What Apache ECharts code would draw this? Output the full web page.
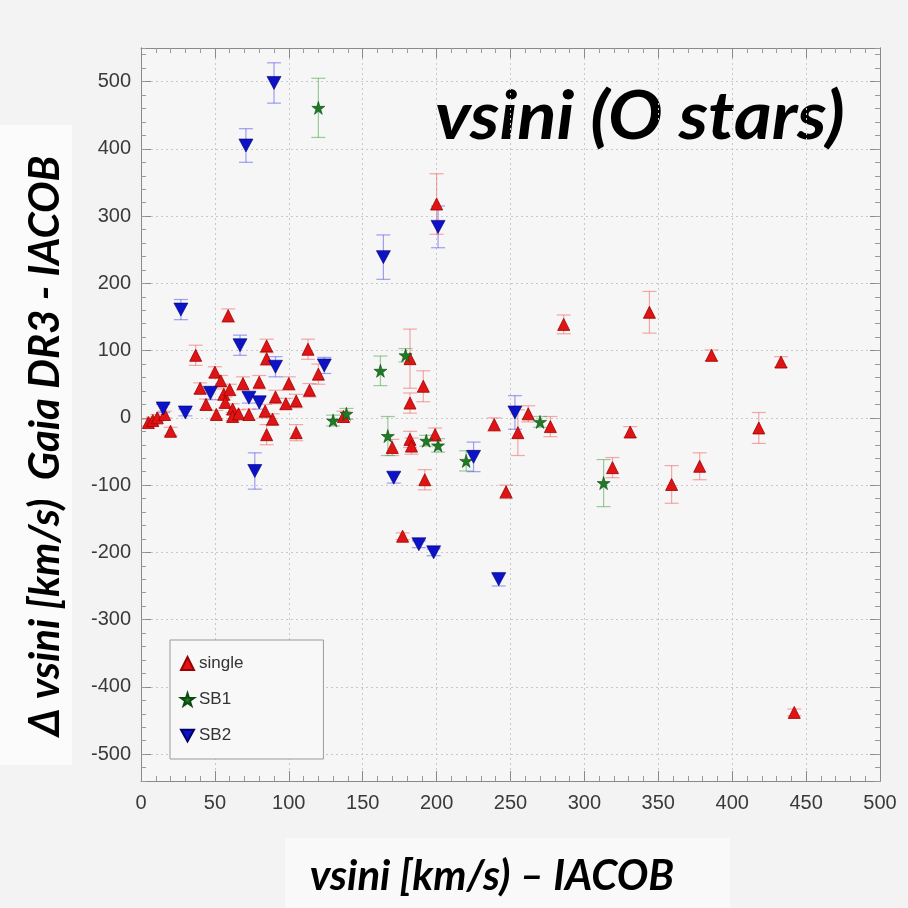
<!DOCTYPE html>
<html>
<head>
<meta charset="utf-8">
<script src="https://cdn.jsdelivr.net/npm/echarts@6/dist/echarts.min.js"></script>
<style>
  html, body { margin: 0; padding: 0; background: #f3f3f3; }
  #chart { width: 908px; height: 908px; }
</style>
</head>
<body>
<div id="chart"></div>
<script>
// [vsini IACOB, delta vsini, error]
const single = [
  [5, -7, 5], [8, -4, 5], [11, 0, 5], [16, 5, 5], [20, -20, 6],
  [37, 93, 15], [40, 44, 8], [44, 20, 8], [50, 68, 8], [51, 5, 6],
  [54, 55, 8], [56, 35, 8], [57, 23, 8], [59, 152, 10], [60, 42, 8],
  [62, 13, 8], [62, 2, 6], [66, 6, 6], [69, 51, 10], [73, 5, 8],
  [80, 53, 10], [84, 10, 10], [85, 107, 10], [85, 88, 10], [85, -25, 15],
  [89, -2, 8], [91, 31, 10], [98, 21, 8], [100, 51, 10], [105, 25, 10],
  [105, -22, 12], [113, 102, 15], [114, 41, 10], [120, 65, 15], [137, 2, 8],
  [170, -44, 12], [177, -176, 5], [182, 88, 44], [182, 22, 15], [182, -32, 12],
  [183, -42, 12], [191, 47, 23], [192, -92, 15], [199, -25, 10], [200, 318, 45],
  [239, -10, 10], [247, -110, 10], [255, -22, 34], [262, 6, 12], [277, -13, 15],
  [286, 139, 14], [319, -74, 15], [331, -21, 8], [344, 157, 31], [359, -99, 28],
  [378, -72, 20], [386, 93, 8], [418, -15, 23], [433, 83, 8], [442, -438, 5]
]
const sb1 = [
  [120, 461, 44], [130, -4, 8], [139, 6, 8], [162, 70, 22], [167, -27, 29],
  [179, 93, 10], [193, -34, 8], [201, -41, 10], [220, -64, 15], [270, -6, 8],
  [313, -97, 35]
]
const sb2 = [
  [15, 14, 6], [27, 161, 15], [30, 8, 5], [47, 37, 10], [67, 108, 15],
  [71, 405, 25], [73, 30, 8], [77, -79, 27], [80, 23, 10], [90, 498, 30],
  [91, 76, 15], [124, 78, 12], [164, 239, 33], [171, -89, 8], [188, -188, 5],
  [198, -200, 5], [201, 284, 31], [225, -58, 22], [242, -240, 10], [253, 8, 25]
]
const yMajorTicks = [-500, -400, -300, -200, -100, 0, 100, 200, 300, 400, 500]

const STAR = 'path://M50,0 L61,35 L98,35 L68,57 L79,91 L50,70 L21,91 L32,57 L2,35 L39,35 Z'
const DOWN = 'path://M0,0 L10,0 L5,9 Z'

const chart = echarts.init(document.getElementById('chart'))

function errorBars(name, data, color) {
  return {
    name: name + ' err',
    type: 'custom',
    data: data,
    encode: { x: 0, y: 1 },
    z: 1,
    silent: true,
    renderItem(params, api) {
      const x = api.value(0), y = api.value(1), e = api.value(2)
      const top = api.coord([x, y + e])
      const bot = api.coord([x, y - e])
      const hw = 7
      const style = { stroke: color, lineWidth: 1.2 }
      return {
        type: 'group',
        children: [
          { type: 'line', shape: { x1: top[0], y1: top[1], x2: bot[0], y2: bot[1] }, style },
          { type: 'line', shape: { x1: top[0] - hw, y1: top[1], x2: top[0] + hw, y2: top[1] }, style },
          { type: 'line', shape: { x1: bot[0] - hw, y1: bot[1], x2: bot[0] + hw, y2: bot[1] }, style }
        ]
      }
    }
  }
}

const labelStyle = { fontFamily: 'Liberation Sans', fontSize: 20, color: '#3a3a3a' }
const frame = { show: true, onZero: false, lineStyle: { color: '#8a8a8a', width: 1 } }

function xAxis(pos, showLabel) {
  return {
    type: 'value', position: pos, min: 0, max: 500, interval: 50,
    axisLine: frame,
    axisTick: { inside: true, length: 10, lineStyle: { color: '#8a8a8a' } },
    minorTick: { show: true, splitNumber: 5, length: 5, lineStyle: { color: '#9a9a9a' } },
    axisLabel: Object.assign({ show: showLabel, margin: 12 }, labelStyle),
    splitLine: { show: showLabel, lineStyle: { color: '#c8c8c8', type: [2, 3] } }
  }
}
function yMajor(pos, showLabel) {
  return {
    type: 'value', position: pos, min: -540, max: 550,
    axisLine: frame,
    axisTick: { inside: true, length: 10, customValues: yMajorTicks, lineStyle: { color: '#8a8a8a' } },
    axisLabel: Object.assign({ show: showLabel, margin: 10, customValues: yMajorTicks }, labelStyle),
    splitLine: { show: showLabel, lineStyle: { color: '#c8c8c8', type: [2, 3] } }
  }
}
function yMinor(pos) {
  return {
    type: 'value', position: pos, min: -540, max: 550, interval: 20,
    axisLine: frame,
    axisTick: { inside: true, length: 5, lineStyle: { color: '#9a9a9a' } },
    axisLabel: { show: false },
    splitLine: { show: false }
  }
}

chart.setOption({
  backgroundColor: '#f3f3f3',
  animation: false,
  grid: { left: 141, right: 28, top: 48, bottom: 127, show: true, backgroundColor: '#f6f6f6', borderWidth: 0 },
  xAxis: [xAxis('bottom', true), xAxis('top', false)],
  yAxis: [yMajor('left', true), yMajor('right', false), yMinor('left'), yMinor('right')],
  legend: {
    orient: 'vertical',
    left: 170, top: 640,
    itemGap: 19, itemWidth: 13, itemHeight: 13,
    padding: [15, 80, 15, 10],
    borderColor: '#9a9a9a', borderWidth: 1,
    backgroundColor: '#f8f8f8',
    textStyle: { fontFamily: 'Liberation Sans', fontSize: 17, color: '#333' },
    data: ['single', 'SB1', 'SB2']
  },
  graphic: [
    { type: 'rect', left: 0, top: 125, shape: { width: 72, height: 640 }, style: { fill: '#fbfbfb' }, z: -1 },
    { type: 'rect', left: 285, top: 838, shape: { width: 445, height: 70 }, style: { fill: '#f9f9f9' }, z: -1 },
    {
      type: 'text', x: 435, y: 118, scaleX: 1.1,
      style: { text: 'vsini (O stars)', font: 'italic bold 66px Lato', fill: '#000', align: 'left', verticalAlign: 'middle' }
    },
    {
      type: 'text', x: 45, y: 446, rotation: Math.PI / 2,
      style: { text: '\u0394 vsini [km/s)  Gaia DR3 - IACOB', font: 'italic bold 42px Lato', fill: '#000', align: 'center', verticalAlign: 'middle' }
    },
    {
      type: 'text', x: 492, y: 876,
      style: { text: 'vsini [km/s) \u2013 IACOB', font: 'italic bold 42px Lato', fill: '#000', align: 'center', verticalAlign: 'middle' }
    }
  ],
  series: [
    errorBars('single', single, 'rgba(240,90,90,0.5)'),
    errorBars('SB1', sb1, 'rgba(60,160,60,0.5)'),
    errorBars('SB2', sb2, 'rgba(70,70,240,0.5)'),
    {
      name: 'single', type: 'scatter', data: single, encode: { x: 0, y: 1 }, z: 3,
      symbol: 'triangle', symbolSize: 12,
      itemStyle: { color: '#e01414', borderColor: '#9a0000', borderWidth: 0.8, opacity: 1 }
    },
    {
      name: 'SB1', type: 'scatter', data: sb1, encode: { x: 0, y: 1 }, z: 4,
      symbol: STAR, symbolSize: 13,
      itemStyle: { color: '#1f7a24', borderColor: '#0d4a10', borderWidth: 0.6, opacity: 1 }
    },
    {
      name: 'SB2', type: 'scatter', data: sb2, encode: { x: 0, y: 1 }, z: 4,
      symbol: DOWN, symbolSize: [14, 13],
      itemStyle: { color: '#0c12c8', borderColor: '#00006a', borderWidth: 0.6, opacity: 1 }
    }
  ]
})
</script>
</body>
</html>
